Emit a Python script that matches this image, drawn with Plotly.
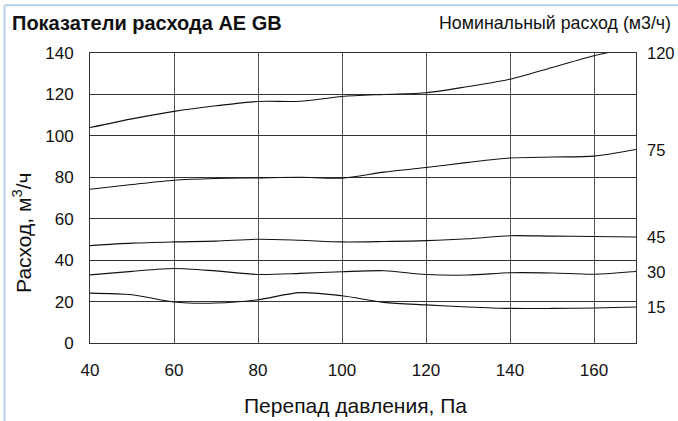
import plotly.graph_objects as go

# Data
pressure = [40, 50, 60, 70, 80, 90, 100, 110, 120, 130, 140, 150, 160, 170]
flow_120 = [104, 108.2, 111.8, 114.5, 116.6, 116.7, 119, 120, 120.8, 123.8, 127.3, 133, 138.7, 143]
flow_75 = [74.2, 76.5, 78.6, 79.4, 79.7, 80, 79.6, 82.5, 84.7, 87.2, 89.3, 89.8, 90.2, 93.4]
flow_45 = [47, 48.2, 48.8, 49.2, 50.1, 49.6, 48.8, 49, 49.4, 50.3, 51.8, 51.6, 51.4, 51.2]
flow_30 = [32.9, 34.6, 36, 34.8, 33.1, 33.6, 34.4, 34.9, 33.1, 32.8, 33.9, 33.8, 33.2, 34.5]
flow_15 = [24.1, 23.3, 19.8, 19.3, 20.9, 24.3, 22.8, 19.6, 18.4, 17.4, 16.7, 16.7, 16.9, 17.4]
nominal_labels = ["120", "75", "45", "30", "15"]
series = [flow_120, flow_75, flow_45, flow_30, flow_15]
x_ticks = [40, 60, 80, 100, 120, 140, 160]
y_ticks = [0, 20, 40, 60, 80, 100, 120, 140]

title_text = "Показатели расхода AE GB"
right_title = "Номинальный расход (м3/ч)"
x_title = "Перепад давления, Па"
y_title = "Расход, м<sup>3</sup>/ч"

FONT = "Liberation Sans, Arial, sans-serif"
W, H = 678, 421
L, R, T, B = 90, 42, 52.5, 77.5
pw, ph = W - L - R, H - T - B


def px(xp):
    return (xp - L) / pw


def py(yp):
    return (H - B - yp) / ph


fig = go.Figure()
for ys in series:
    fig.add_trace(go.Scatter(x=pressure, y=ys, mode="lines",
                             line=dict(color="#111111", width=1.1, shape="spline", smoothing=0.8),
                             showlegend=False, hoverinfo="skip"))

annotations = [
    dict(text="<b>" + title_text + "</b>", x=px(10), y=py(22), xref="paper", yref="paper",
         xanchor="left", yanchor="middle", showarrow=False, font=dict(size=20, color="#111")),
    dict(text=right_title, x=px(673), y=py(22), xref="paper", yref="paper",
         xanchor="right", yanchor="middle", showarrow=False, font=dict(size=17.8, color="#111")),
    dict(text=x_title, x=px(355), y=py(406), xref="paper", yref="paper",
         xanchor="center", yanchor="middle", showarrow=False, font=dict(size=21, color="#111")),
    dict(text=y_title, x=px(22), y=py(233), xref="paper", yref="paper", textangle=-90,
         xanchor="center", yanchor="middle", showarrow=False, font=dict(size=21, color="#111")),
]
for lab, ys in zip(nominal_labels, series):
    yv = min(ys[-1], 140)
    annotations.append(dict(text=lab, x=px(645), y=yv, xref="paper", yref="y",
                            xanchor="left", yanchor="middle", showarrow=False,
                            font=dict(size=16.5, color="#111")))

shapes = [
    dict(type="line", xref="paper", yref="paper", x0=px(4.5), x1=px(700), y0=py(4.5), y1=py(4.5),
         line=dict(color="#b5d0ea", width=2)),
    dict(type="line", xref="paper", yref="paper", x0=px(4.5), x1=px(4.5), y0=py(4.5), y1=py(440),
         line=dict(color="#b5d0ea", width=2)),
]

fig.update_layout(
    width=W, height=H,
    margin=dict(l=L, r=R, t=T, b=B, pad=0),
    paper_bgcolor="white", plot_bgcolor="white",
    font=dict(family=FONT, size=17, color="#111"),
    annotations=annotations, shapes=shapes,
    xaxis=dict(range=[40, 170], tickvals=x_ticks, ticktext=[str(v) for v in x_ticks],
               showgrid=True, gridcolor="#555", gridwidth=1, zeroline=False,
               showline=True, linecolor="#333", linewidth=1, mirror=True,
               ticks="outside", ticklen=12, tickcolor="rgba(0,0,0,0)",
               tickfont=dict(size=17, family=FONT, color="#111")),
    yaxis=dict(range=[0, 140], tickvals=y_ticks, ticktext=[str(v) for v in y_ticks],
               showgrid=True, gridcolor="#333", gridwidth=1, zeroline=False,
               showline=True, linecolor="#333", linewidth=1, mirror=True,
               ticks="outside", ticklen=12, tickcolor="rgba(0,0,0,0)",
               tickfont=dict(size=17, family=FONT, color="#111")),
)

fig.write_html("out.html", config={"displayModeBar": False})

# remove default page margin so the figure sits at the window's top-left corner
with open("out.html", "r", encoding="utf-8") as f:
    html = f.read()
html = html.replace("<head>", "<head><style>html,body{margin:0;padding:0;overflow:hidden;}</style>", 1)
with open("out.html", "w", encoding="utf-8") as f:
    f.write(html)
